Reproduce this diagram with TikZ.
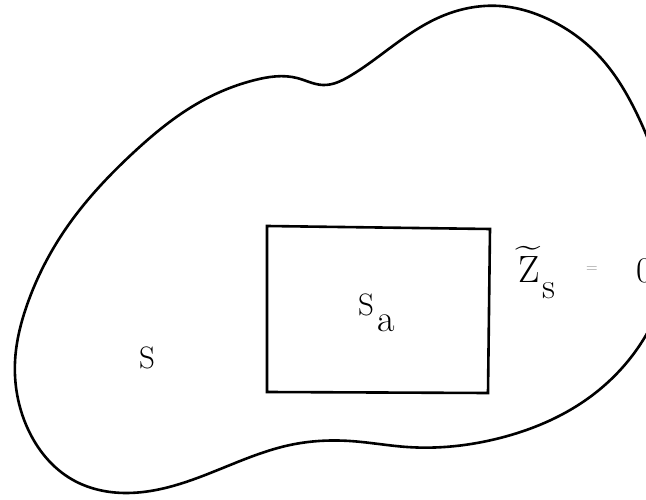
\documentclass[tikz,border=0pt]{standalone}
\usepackage{fontspec}
\usetikzlibrary{hobby}
\begin{document}
\begin{tikzpicture}[x=1pt,y=-1pt,
  outline/.style={line width=2.6pt, line join=round, line cap=round},
  lbl/.style={inner sep=0pt, font=\fontsize{31}{36}\selectfont},
  sub/.style={inner sep=0pt, font=\fontsize{38}{44}\selectfont}]
\useasboundingbox (0,0) rectangle (646,500);
\clip (0,0) rectangle (646,500);
\draw[outline, use Hobby shortcut]
 (655,158) .. (635,110) .. (600,57) .. (550,20) .. (500,6) .. (440,17) ..
 (390,48) .. (350,76) .. (323,85) .. (297,78) .. (255,80) .. (200,102) ..
 (133,153) .. (67,227) .. (27,305) .. (15,362) .. (27,427) .. (73,480) ..
 (127,493) .. (200,477) .. (290,445) .. (350,441) .. (407,447) .. (500,438) ..
 (590,397) .. (635,352) .. (655,318);
\draw[outline, line cap=butt, line join=miter] (267,226) -- (490,229) -- (488,393) -- (267,392) -- cycle;
\node[lbl] (s) at (147,358) {S};
\node[lbl] (sa) at (366,305) {S};
\node[sub] (saa) at (386,323) {a};
\node[inner sep=0pt, font=\fontsize{38}{42}\selectfont] (z) at (529,270) {Z};
\node[inner sep=0pt, font=\fontsize{30}{34}\selectfont] (tl) at (528,251) {\scalebox{1.5}[1.1]{\textasciitilde}};
\node[sub, font=\fontsize{36}{40}\selectfont] (zs) at (549,291) {s};
\node[inner sep=0pt, text=black!45, font=\fontsize{16}{18}\selectfont] (eq) at (592,270) {=};
\node[inner sep=0pt, font=\fontsize{36}{40}\selectfont] (zero) at (645,271) {0};
\end{tikzpicture}
\end{document}
